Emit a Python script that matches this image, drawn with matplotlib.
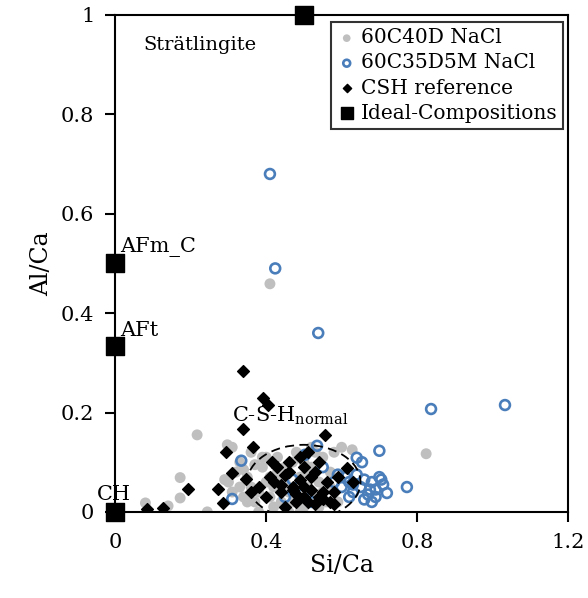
import matplotlib
matplotlib.use('Agg')
import matplotlib.pyplot as plt
from matplotlib.patches import Ellipse

# 60C40D NaCl (grey filled circles)
grey_x = [0.08, 0.14, 0.172, 0.172, 0.217, 0.244, 0.29, 0.297, 0.41, 0.824, 0.628,
          0.30, 0.31, 0.32, 0.33, 0.34, 0.35, 0.36, 0.37, 0.38, 0.39, 0.40, 0.41,
          0.42, 0.43, 0.44, 0.45, 0.46, 0.47, 0.48, 0.49, 0.50, 0.51, 0.52, 0.53,
          0.54, 0.55, 0.56, 0.57, 0.58, 0.33, 0.36, 0.39, 0.42, 0.45, 0.48, 0.51,
          0.54, 0.57, 0.35, 0.40, 0.44, 0.47, 0.53, 0.50, 0.55, 0.38, 0.43, 0.52,
          0.60, 0.46, 0.31, 0.59, 0.49, 0.34, 0.37, 0.41, 0.44]
grey_y = [0.018, 0.012, 0.028, 0.069, 0.155, 0.0, 0.065, 0.135, 0.459, 0.117, 0.125,
          0.06, 0.04, 0.08, 0.05, 0.03, 0.07, 0.05, 0.02, 0.04, 0.09, 0.06, 0.03,
          0.05, 0.08, 0.02, 0.06, 0.04, 0.10, 0.03, 0.07, 0.01, 0.05, 0.09, 0.03,
          0.06, 0.11, 0.02, 0.08, 0.12, 0.10, 0.12, 0.11, 0.01, 0.09, 0.12, 0.08,
          0.01, 0.05, 0.02, 0.11, 0.07, 0.02, 0.12, 0.10, 0.04, 0.00, 0.11, 0.13,
          0.13, 0.00, 0.13, 0.02, 0.0, 0.085, 0.095, 0.07, 0.045]

# 60C35D5M NaCl (blue open circles)
blue_x = [0.41, 0.424, 0.538, 1.033, 0.837, 0.334, 0.31, 0.535, 0.70, 0.773,
          0.72, 0.64, 0.654, 0.503, 0.60, 0.61, 0.62, 0.63, 0.64, 0.65, 0.66,
          0.67, 0.68, 0.69, 0.70, 0.71, 0.58, 0.59, 0.62, 0.66, 0.675, 0.69,
          0.63, 0.45, 0.47, 0.50, 0.55, 0.52, 0.68, 0.705]
blue_y = [0.68, 0.49, 0.36, 0.215, 0.207, 0.103, 0.026, 0.133, 0.123, 0.05,
          0.038, 0.109, 0.10, 0.115, 0.05, 0.07, 0.06, 0.04, 0.075, 0.05, 0.065,
          0.035, 0.06, 0.045, 0.07, 0.055, 0.06, 0.075, 0.03, 0.025, 0.045, 0.03,
          0.055, 0.03, 0.065, 0.04, 0.09, 0.02, 0.02, 0.065]

# CSH reference (black diamonds)
csh_x = [0.339, 0.392, 0.405, 0.339, 0.556, 0.366, 0.294, 0.416, 0.31, 0.347,
         0.193, 0.273, 0.286, 0.085, 0.127, 0.614, 0.63, 0.38, 0.40, 0.42, 0.44,
         0.46, 0.48, 0.50, 0.52, 0.54, 0.56, 0.58, 0.43, 0.45, 0.47, 0.49, 0.51,
         0.53, 0.55, 0.57, 0.41, 0.46, 0.50, 0.54, 0.48, 0.52, 0.44, 0.59, 0.36,
         0.49, 0.53, 0.45, 0.51, 0.47, 0.55, 0.58, 0.50]
csh_y = [0.284, 0.229, 0.215, 0.167, 0.155, 0.131, 0.121, 0.10, 0.078, 0.066,
         0.046, 0.046, 0.018, 0.006, 0.008, 0.089, 0.06, 0.05, 0.03, 0.06, 0.04,
         0.08, 0.02, 0.05, 0.07, 0.03, 0.06, 0.04, 0.09, 0.01, 0.05, 0.11, 0.02,
         0.08, 0.04, 0.02, 0.07, 0.10, 0.09, 0.10, 0.035, 0.045, 0.055, 0.07,
         0.04, 0.065, 0.015, 0.075, 0.12, 0.045, 0.025, 0.015, 0.03]

# Ideal compositions
ideal_x = [0.0, 0.0, 0.0, 0.5]
ideal_y = [0.0, 0.333, 0.5, 1.0]

plt.rcParams['font.family'] = ['DejaVu Serif']

fig = plt.figure(figsize=(5.88, 5.98), dpi=100)
ax = fig.add_axes([0.196, 0.144, 0.770, 0.831])

ax.scatter(grey_x, grey_y, s=62, color='#BFBFBF', edgecolors='none',
           label='60C40D NaCl', zorder=2)
ax.scatter(blue_x, blue_y, s=50, facecolors='none', edgecolors='#4A7EBB',
           linewidths=1.9, label='60C35D5M NaCl', zorder=3)
ax.scatter(csh_x, csh_y, s=36, marker='D', color='black',
           label='CSH reference', zorder=4)
ax.scatter(ideal_x, ideal_y, s=150, marker='s', color='black',
           label='Ideal-Compositions', zorder=5, clip_on=False)

ell = Ellipse((0.50, 0.06), 0.30, 0.15, fill=False, ls=(0, (5, 3)),
              lw=1.3, color='black', zorder=6)
ax.add_patch(ell)

ax.text(0.012, 0.513, 'AFm_C', fontsize=15, va='bottom', ha='left')
ax.text(0.012, 0.345, 'AFt', fontsize=15, va='bottom', ha='left')
ax.text(-0.05, 0.015, 'CH', fontsize=15, va='bottom', ha='left')
ax.text(0.075, 0.94, 'Strätlingite', fontsize=14, va='center', ha='left')
ax.text(0.31, 0.17, r'C-S-H$_{\mathregular{normal}}$', fontsize=15,
        va='bottom', ha='left')

ax.set_xlim(0, 1.2)
ax.set_ylim(0, 1)
ax.set_xticks([0, 0.4, 0.8, 1.2])
ax.set_xticklabels(['0', '0.4', '0.8', '1.2'])
ax.set_yticks([0, 0.2, 0.4, 0.6, 0.8, 1.0])
ax.set_yticklabels(['0', '0.2', '0.4', '0.6', '0.8', '1'])
ax.tick_params(labelsize=15, width=1.5, length=7, direction='out', pad=8)
for sp in ax.spines.values():
    sp.set_linewidth(1.5)

ax.set_xlabel('Si/Ca', fontsize=17, labelpad=2)
ax.set_ylabel('Al/Ca', fontsize=17, labelpad=6)

leg = ax.legend(loc='upper right', bbox_to_anchor=(0.99, 0.985), fontsize=14.5,
                frameon=True, fancybox=False, edgecolor='black',
                handletextpad=0.2, handlelength=1.0, borderpad=0.3,
                labelspacing=0.3, borderaxespad=0.0, markerscale=0.7)
leg.get_frame().set_linewidth(1.5)

fig.savefig('out.png', dpi=100)
